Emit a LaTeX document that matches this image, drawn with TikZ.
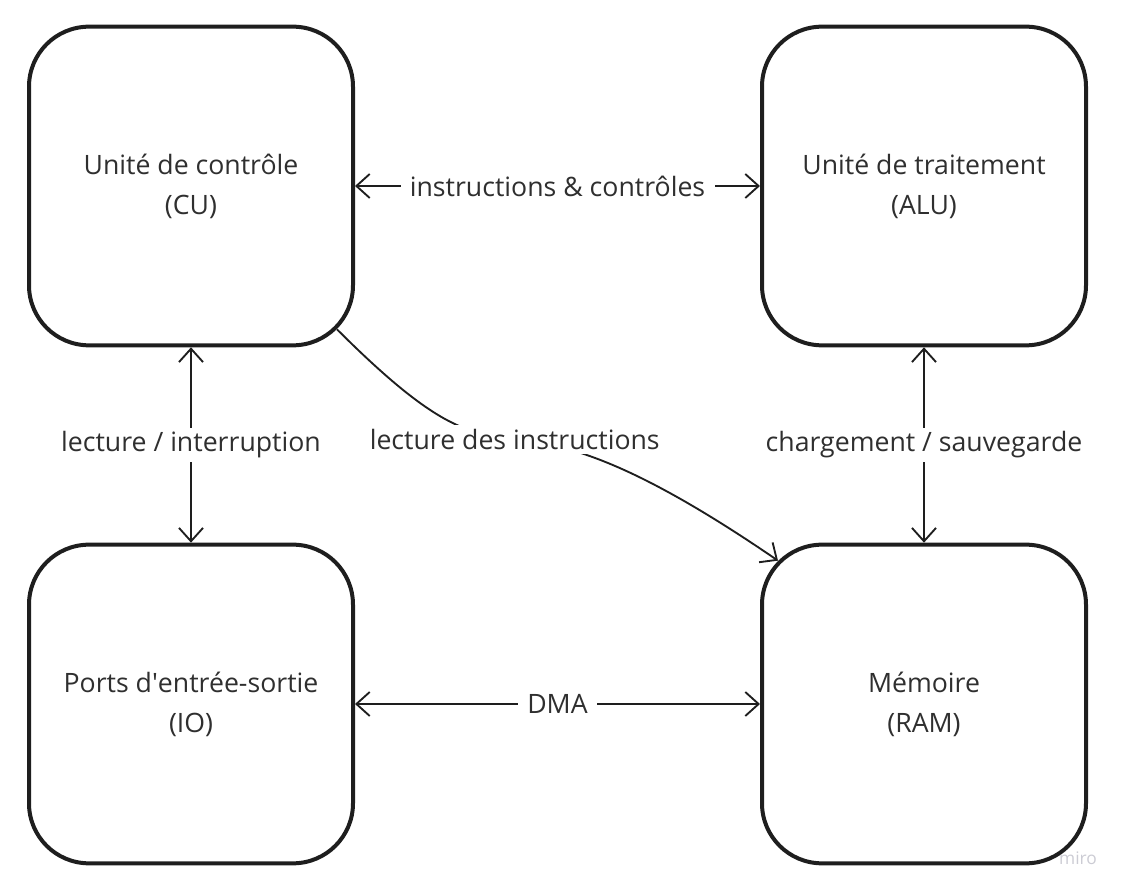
\documentclass[tikz,border=0pt]{standalone}
\usepackage{fontspec}
\setmainfont{Open Sans}
\usetikzlibrary{arrows.meta}
\definecolor{trait}{HTML}{1E1E1E}
\definecolor{texte}{HTML}{2F2F2F}
\definecolor{filigrane}{HTML}{CCCCD4}
\begin{document}
\begin{tikzpicture}[x=0.75pt, y=0.75pt,
        bloc/.style={draw=trait, line width=3pt, rounded corners=45pt, minimum width=243pt, minimum height=239pt,
            align=center, text=texte, font=\fontsize{20}{30}\selectfont},
        lien/.style={draw=trait, line width=1.4pt},
        fleche/.tip={Straight Barb[length=10pt, width=18pt]},
        etiq/.style={fill=white, text=texte, font=\fontsize{20}{24}\selectfont, inner xsep=7pt, inner ysep=3pt}]
    \useasboundingbox (0, 0) rectangle (1122, 890);
    % les quatre blocs
    \node[bloc] (cu) at (191, 704) {Unité de contrôle\\(CU)};
    \node[bloc] (alu) at (924, 704) {Unité de traitement\\(ALU)};
    \node[bloc] (io) at (191, 186) {Ports d\textquotesingle entrée-sortie\\(IO)};
    \node[bloc] (ram) at (924, 186) {Mémoire\\(RAM)};
    % liaisons
    \draw[lien, fleche-fleche] (cu) -- node[etiq] {instructions \& contrôles} (alu);
    \draw[lien, fleche-fleche] (cu) -- node[etiq] {lecture / interruption} (io);
    \draw[lien, fleche-fleche] (alu) -- node[etiq] {chargement / sauvegarde} (ram);
    \draw[lien, fleche-fleche] (io) -- node[etiq] {DMA} (ram);
    \coordinate (depart) at ([xshift=-13.5pt, yshift=13.5pt]cu.south east);
    \coordinate (arrivee) at ([xshift=13.5pt, yshift=-13.5pt]ram.north west);
    \draw[lien, -fleche] (depart) .. controls +(200, -200) and +(-314, 215) .. node[etiq, pos=0.5] {lecture des instructions} (arrivee);
    \node[text=filigrane, font=\fontsize{13}{15}\selectfont] (miro) at (1078, 32) {miro};
\end{tikzpicture}
\end{document}
